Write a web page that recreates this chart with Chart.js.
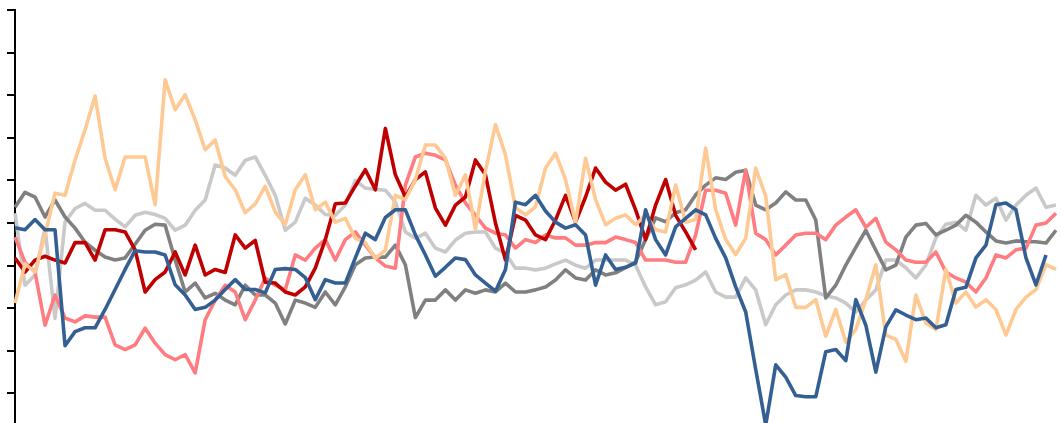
<!DOCTYPE html>
<html>
<head>
<meta charset="utf-8">
<script src="https://cdn.jsdelivr.net/npm/chart.js@4"></script>
<style>
html,body{margin:0;padding:0;background:#fff;overflow:hidden;}
canvas{display:block;}
</style>
</head>
<body>
<canvas id="c" width="1061" height="446"></canvas>
<script>
// Six series sampled along a common index (values in axis units, ticks every 10)
const days = Array.from({length: 105}, (_, i) => i + 1);

const peach = [31.2,40.4,38.5,47.2,57.0,56.5,64.8,71.9,79.8,65.2,
57.8,65.5,65.5,65.5,54.3,83.6,76.6,80.1,74.2,67.2,
69.5,60.9,57.8,52.4,54.5,58.6,52.6,49.6,57.8,61.3,
53.1,54.9,50.2,51.1,46.4,45.4,41.7,43.6,56.5,55.5,
60.2,68.3,68.3,65.2,56.5,61.3,48.6,62.2,73.1,66.0,
53.6,51.9,53.8,62.9,66.4,60.2,50.0,65.2,55.5,49.6,
51.1,51.9,49.6,51.9,48.4,47.9,58.9,50.2,50.8,67.6,
53.1,46.1,42.6,46.4,62.9,56.3,36.7,37.9,30.2,30.2,
32.0,23.4,29.7,22.0,25.0,32.0,40.2,23.7,22.7,17.5,
33.1,26.5,25.0,39.1,31.2,33.8,30.3,32.0,29.7,23.7,
29.7,32.6,34.4,40.2,39.1];

const blue = [48.9,48.4,50.8,48.4,48.4,21.2,24.5,25.4,25.4,29.7,
34.4,39.1,43.5,43.2,43.2,42.5,35.5,33.1,29.7,30.2,
31.9,34.4,36.7,34.4,34.4,33.6,39.1,39.3,39.1,37.2,
32.0,36.7,35.9,35.9,41.8,47.6,46.1,51.3,53.1,53.1,
47.2,42.5,37.5,39.6,41.8,41.4,37.8,35.9,34.0,39.1,
54.9,54.3,56.5,52.8,50.2,48.8,49.6,47.2,35.4,42.5,
39.1,39.6,40.6,53.1,46.1,42.5,49.1,51.1,53.1,51.9,
46.4,41.8,35.0,29.1,15.6,2.6,16.7,13.8,9.5,9.2,
9.2,19.8,20.3,17.7,32.0,26.0,15.0,25.6,29.6,28.4,
27.3,27.7,25.4,26.1,34.4,34.9,41.8,44.8,54.3,54.7,
53.1,41.8,35.5,42.5,null];

const darkRed = [41.8,38.5,41.3,42.2,41.3,40.6,45.4,45.4,41.3,48.4,
48.4,47.9,43.7,33.8,36.7,38.5,43.2,37.8,44.8,37.8,
39.1,38.4,47.2,44.1,45.9,36.1,35.9,33.8,33.1,35.0,
39.4,46.1,54.5,54.7,58.7,62.5,57.8,72.2,61.3,56.1,
60.2,62.0,53.5,49.5,54.2,56.1,64.8,61.3,50.0,41.3,
51.8,50.7,47.2,46.1,50.7,56.5,50.2,56.1,62.9,59.6,
57.7,59.1,53.1,46.1,54.2,60.2,51.8,47.9,43.7,null,
null,null,null,null,null,null,null,null,null,null,
null,null,null,null,null,null,null,null,null,null,
null,null,null,null,null,null,null,null,null,null,
null,null,null,null,null];

const lightRed = [46.7,40.8,38.5,26.0,33.1,27.7,26.8,28.2,27.9,27.9,
21.4,20.3,21.4,25.3,21.8,19.1,17.9,19.1,14.8,27.3,
31.9,35.4,33.8,27.3,31.9,37.1,35.4,34.3,42.5,41.3,
44.1,46.1,41.3,46.1,47.9,44.8,41.8,39.9,39.4,58.9,
65.5,66.4,65.9,64.8,58.9,54.7,51.8,48.8,47.6,47.2,
44.1,46.1,45.4,47.2,46.5,46.5,44.8,44.8,45.4,45.4,
46.7,46.1,45.4,41.3,41.3,41.3,40.8,40.8,47.2,57.7,
57.7,57.0,49.5,62.4,47.6,46.1,42.5,44.8,47.2,47.6,
47.6,46.1,49.5,51.4,53.1,49.0,51.1,45.5,43.7,41.3,
40.8,40.8,43.2,38.5,37.1,36.1,33.8,37.1,42.5,41.8,
43.7,44.1,49.5,50.0,52.3];

const gray = [53.7,57.2,56.1,51.4,55.4,51.4,48.8,45.5,43.6,42.0,
41.3,41.8,45.0,48.3,49.7,49.5,41.3,33.8,35.9,32.4,
33.5,31.9,30.8,35.4,33.1,33.1,31.2,26.3,31.9,31.2,
30.2,33.8,30.8,35.0,40.2,41.8,42.0,42.0,44.8,40.2,
27.8,31.9,31.9,34.3,31.9,34.3,33.5,34.3,33.8,35.9,
33.8,33.8,34.3,35.0,36.6,39.0,37.1,36.6,39.0,37.8,
38.3,39.5,40.9,46.1,51.2,50.3,52.4,53.1,56.6,58.9,
60.6,60.2,61.9,62.4,54.2,53.1,54.7,57.3,55.4,55.4,
50.7,32.4,35.4,40.1,44.3,48.3,43.6,39.0,40.1,46.7,
49.5,49.9,47.2,48.3,49.5,51.8,50.2,47.9,45.8,45.3,
45.8,45.6,45.6,45.3,48.3];

const lightGray = [52.3,35.4,37.8,48.7,27.6,50.2,53.4,54.6,53.0,53.0,
50.9,49.1,51.8,52.5,52.0,51.1,48.3,49.5,53.0,55.4,
63.6,62.9,61.2,64.7,65.5,61.2,56.5,48.3,50.2,55.8,
54.2,52.0,51.8,54.2,60.0,58.2,57.9,57.7,54.9,47.9,
46.4,47.6,44.1,43.2,46.0,47.6,47.9,47.9,44.1,42.9,
39.4,39.4,39.0,39.4,40.4,41.3,40.1,39.4,41.3,41.3,
41.3,41.3,40.1,35.0,30.8,31.5,34.8,35.5,36.6,38.5,
33.8,32.6,32.6,37.1,34.3,26.1,30.8,33.1,34.3,34.3,
33.8,32.9,32.4,31.2,29.1,31.9,34.3,41.3,41.3,39.5,
37.1,40.1,46.5,49.7,50.2,48.3,56.5,54.2,55.8,50.7,
54.2,56.5,58.2,53.7,54.2];

const yTicks = [0,10,20,30,40,50,60,70,80,90,100];

function ds(data, color) {
  return {data, borderColor: color, backgroundColor: color, borderWidth: 3.6,
          pointRadius: 0, tension: 0, fill: false, spanGaps: false,
          borderJoinStyle: 'round', borderCapStyle: 'butt'};
}

new Chart(document.getElementById('c'), {
  type: 'line',
  data: {
    labels: days,
    datasets: [
      ds(blue, '#335f92'),
      ds(peach, '#ffc994'),
      ds(darkRed, '#c00000'),
      ds(lightRed, '#ff7c80'),
      ds(gray, '#808080'),
      ds(lightGray, '#c9c9c9')
    ]
  },
  options: {
    responsive: false,
    animation: false,
    devicePixelRatio: 1,
    layout: {padding: {top: 10, bottom: 10, left: 7, right: 5}},
    plugins: {legend: {display: false}, tooltip: {enabled: false}},
    scales: {
      x: {display: false, offset: false},
      y: {
        min: 0, max: 100,
        afterBuildTicks: (s) => { s.ticks = yTicks.map(v => ({value: v})); },
        ticks: {display: false},
        grid: {drawOnChartArea: false, drawTicks: true, tickLength: 8, color: '#000', lineWidth: 2},
        border: {display: true, color: '#000', width: 2}
      }
    }
  }
});
</script>
</body>
</html>
